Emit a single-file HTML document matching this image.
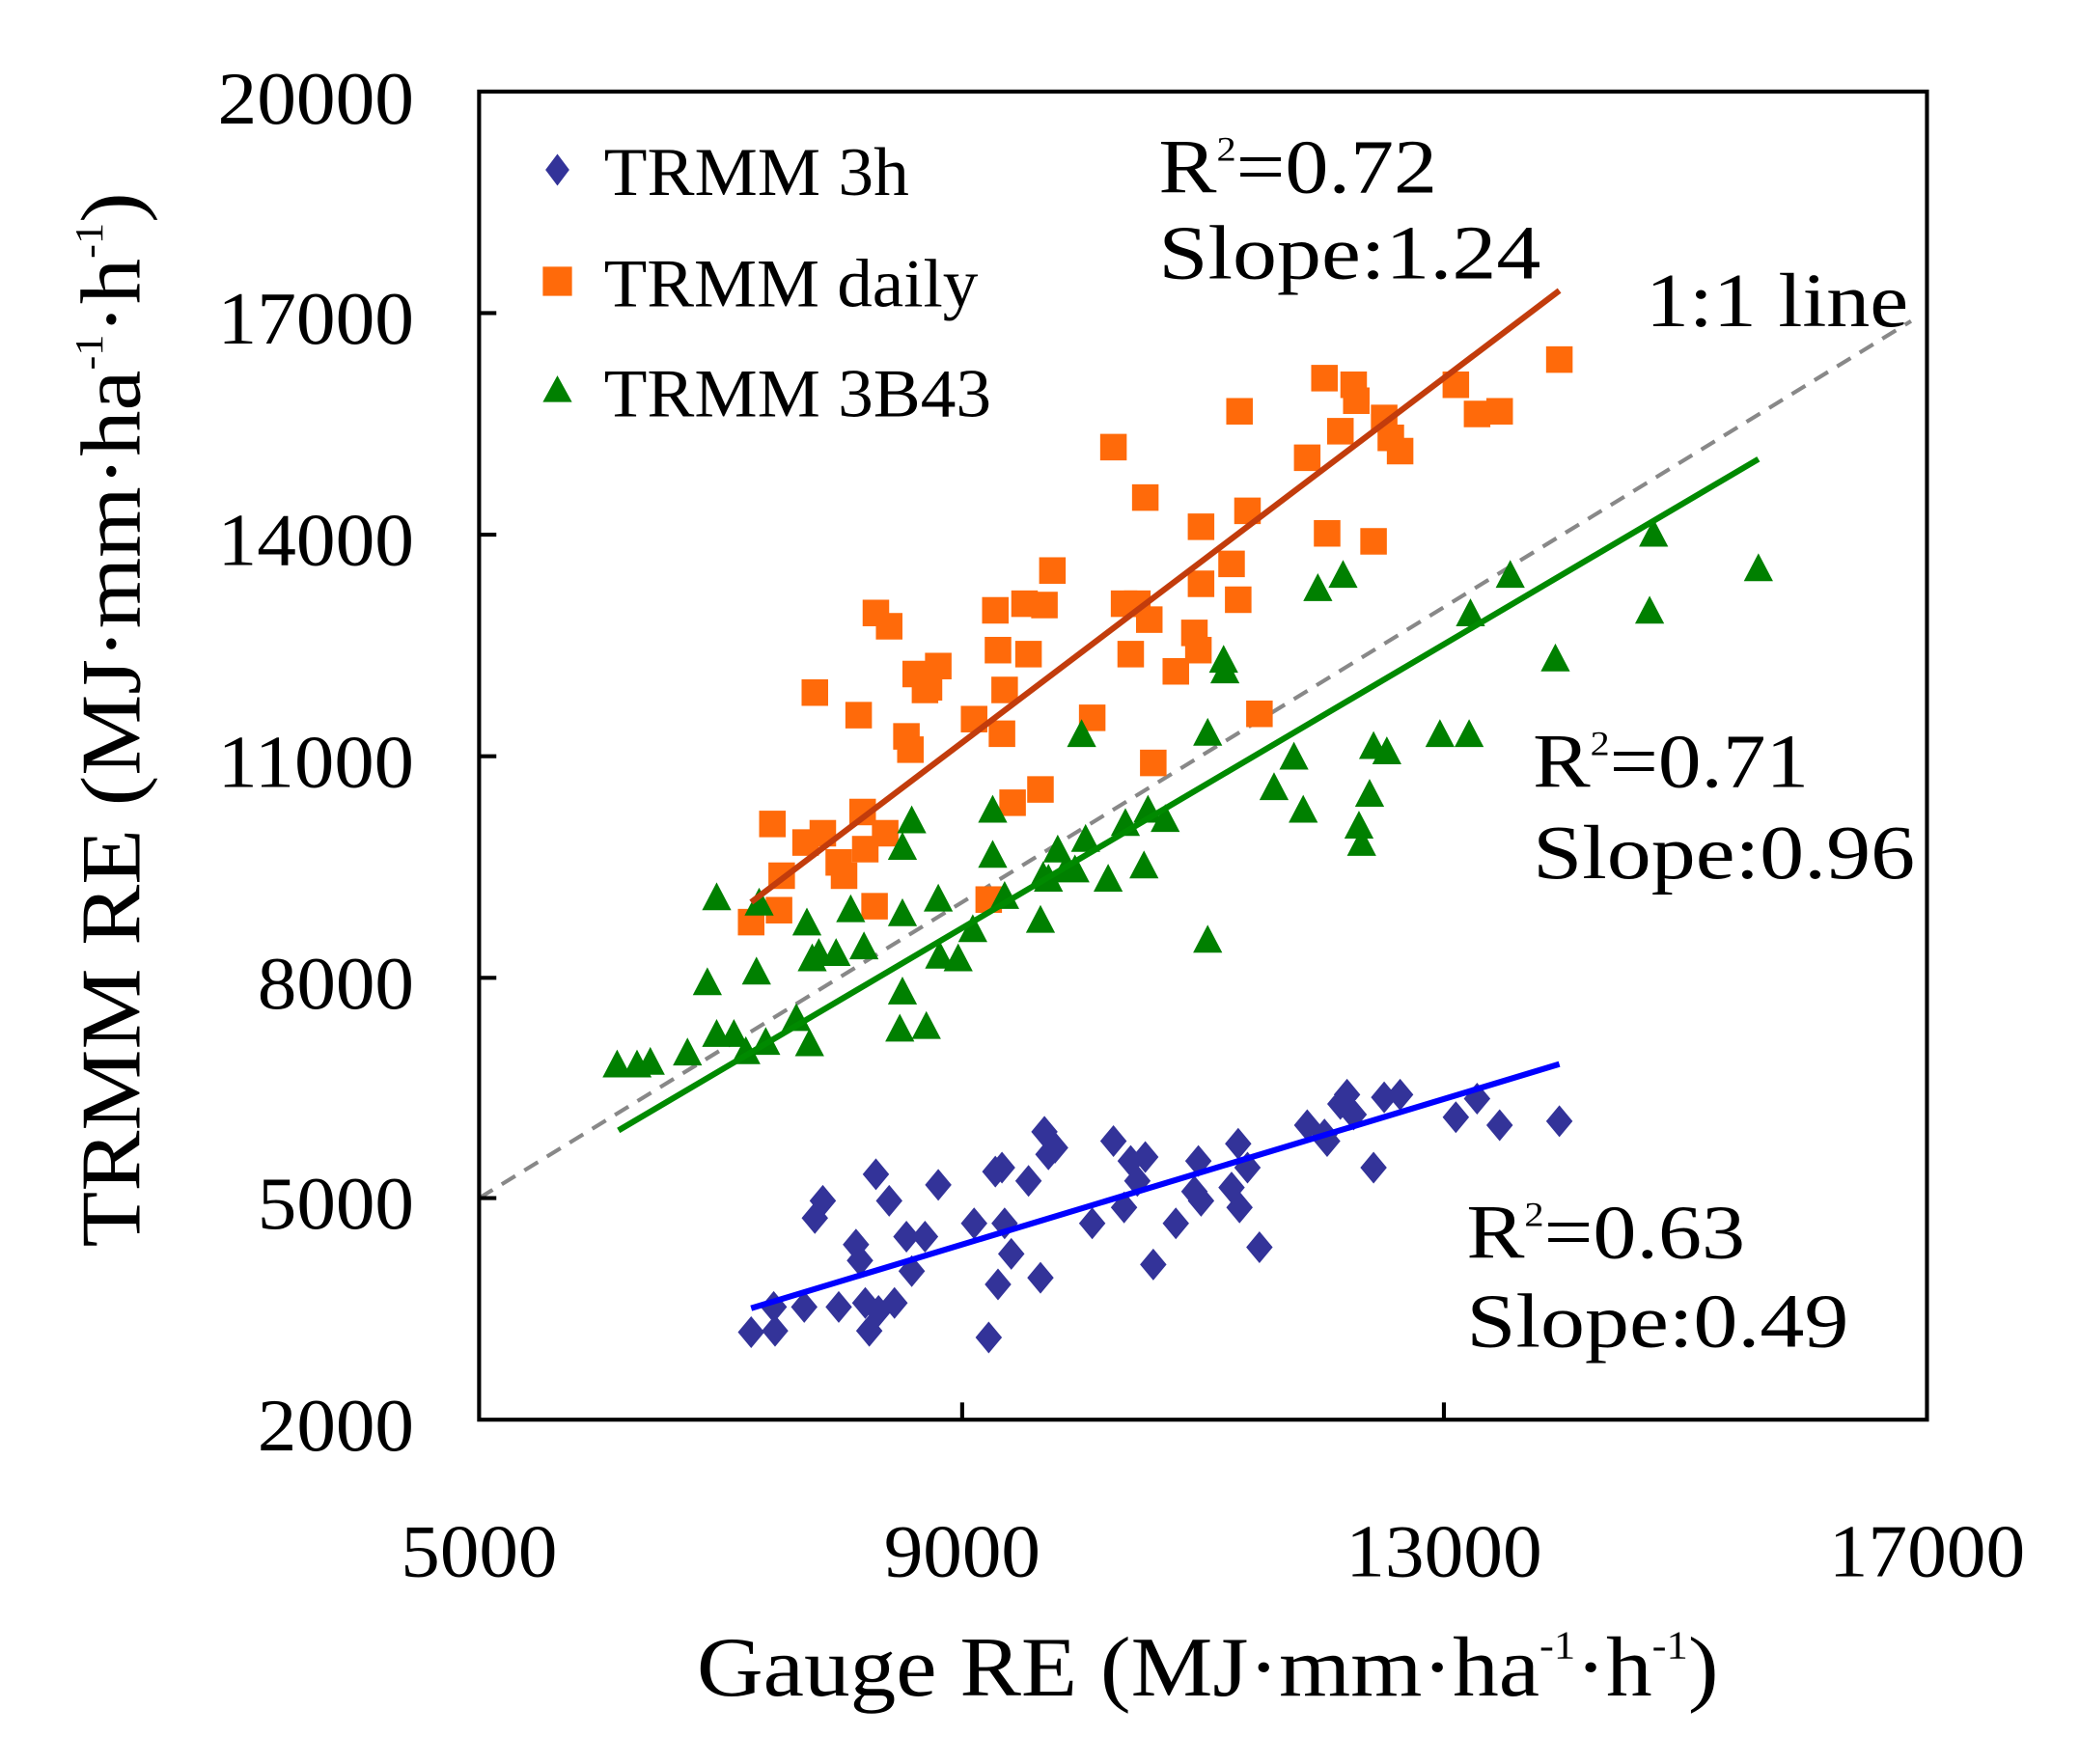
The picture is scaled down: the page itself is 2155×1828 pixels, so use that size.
<!DOCTYPE html>
<html><head><style>html,body{margin:0;padding:0;background:#fff}svg{display:block}svg text{font-family:"Liberation Serif","Times New Roman",serif}</style></head><body>
<svg width="2155" height="1828" viewBox="0 0 1567.3 1329.5" xmlns="http://www.w3.org/2000/svg" style="font-family:'Liberation Serif',serif">
<rect width="1567.3" height="1329.5" fill="#fff"/>
<line x1="361" y1="903" x2="1440" y2="242" stroke="#888" stroke-width="3" stroke-dasharray="12,8"/>
<g fill="#ff6a0a">
<rect x="556" y="685" width="20" height="20"/><rect x="577" y="676" width="20" height="20"/><rect x="572" y="611" width="20" height="20"/><rect x="579" y="650" width="20" height="20"/><rect x="597" y="625" width="20" height="20"/><rect x="610" y="618" width="20" height="20"/><rect x="604" y="512" width="20" height="20"/><rect x="622" y="640" width="20" height="20"/><rect x="626" y="650" width="20" height="20"/><rect x="637" y="529" width="20" height="20"/><rect x="640" y="602" width="20" height="20"/><rect x="642" y="630" width="20" height="20"/><rect x="649" y="673" width="20" height="20"/><rect x="650" y="452" width="20" height="20"/><rect x="660" y="462" width="20" height="20"/><rect x="657" y="618" width="20" height="20"/><rect x="673" y="545" width="20" height="20"/><rect x="676" y="555" width="20" height="20"/><rect x="680" y="498" width="20" height="20"/><rect x="687" y="510" width="20" height="20"/><rect x="697" y="492" width="20" height="20"/><rect x="690" y="508" width="20" height="20"/><rect x="724" y="532" width="20" height="20"/><rect x="735" y="668" width="20" height="20"/><rect x="740" y="450" width="20" height="20"/><rect x="742" y="480" width="20" height="20"/><rect x="745" y="543" width="20" height="20"/><rect x="747" y="510" width="20" height="20"/><rect x="753" y="595" width="20" height="20"/><rect x="762" y="445" width="20" height="20"/><rect x="765" y="483" width="20" height="20"/><rect x="774" y="585" width="20" height="20"/><rect x="777" y="446" width="20" height="20"/><rect x="783" y="420" width="20" height="20"/><rect x="813" y="531" width="20" height="20"/><rect x="829" y="327" width="20" height="20"/><rect x="837" y="445" width="20" height="20"/><rect x="842" y="483" width="20" height="20"/><rect x="847" y="445" width="20" height="20"/><rect x="853" y="365" width="20" height="20"/><rect x="856" y="457" width="20" height="20"/><rect x="859" y="565" width="20" height="20"/><rect x="876" y="496" width="20" height="20"/><rect x="890" y="467" width="20" height="20"/><rect x="893" y="480" width="20" height="20"/><rect x="895" y="387" width="20" height="20"/><rect x="895" y="430" width="20" height="20"/><rect x="918" y="415" width="20" height="20"/><rect x="923" y="442" width="20" height="20"/><rect x="924" y="300" width="20" height="20"/><rect x="930" y="375" width="20" height="20"/><rect x="939" y="528" width="20" height="20"/><rect x="975" y="335" width="20" height="20"/><rect x="988" y="275" width="20" height="20"/><rect x="990" y="392" width="20" height="20"/><rect x="1000" y="315" width="20" height="20"/><rect x="1010" y="280" width="20" height="20"/><rect x="1012" y="292" width="20" height="20"/><rect x="1025" y="398" width="20" height="20"/><rect x="1033" y="305" width="20" height="20"/><rect x="1038" y="320" width="20" height="20"/><rect x="1045" y="330" width="20" height="20"/><rect x="1087" y="280" width="20" height="20"/><rect x="1103" y="302" width="20" height="20"/><rect x="1120" y="300" width="20" height="20"/><rect x="1165" y="261" width="20" height="20"/>
</g>
<g fill="#008000">
<path d="M465,791l-11,21h22zM480,791l-11,21h22zM490,789l-11,21h22zM518,782l-11,21h22zM533,729l-11,21h22zM540,665l-11,21h22zM540,768l-11,21h22zM553,768l-11,21h22zM562,781l-11,21h22zM570,721l-11,21h22zM572,669l-11,21h22zM577,774l-11,21h22zM600,756l-11,21h22zM608,684l-11,21h22zM610,775l-11,21h22zM612,711l-11,21h22zM617,707l-11,21h22zM630,707l-11,21h22zM641,674l-11,21h22zM651,702l-11,21h22zM678,764l-11,21h22zM680,736l-11,21h22zM687,607l-11,21h22zM680,627l-11,21h22zM680,677l-11,21h22zM698,762l-11,21h22zM707,666l-11,21h22zM708,709l-11,21h22zM722,711l-11,21h22zM733,689l-11,21h22zM748,599l-11,21h22zM748,633l-11,21h22zM757,664l-11,21h22zM784,682l-11,21h22zM786,649l-11,21h22zM790,651l-11,21h22zM797,629l-11,21h22zM803,644l-11,21h22zM810,644l-11,21h22zM815,542l-11,21h22zM818,621l-11,21h22zM835,651l-11,21h22zM848,609l-11,21h22zM862,641l-11,21h22zM865,599l-11,21h22zM878,606l-11,21h22zM910,697l-11,21h22zM910,541l-11,21h22zM922,486l-11,21h22zM923,494l-11,21h22zM960,582l-11,21h22zM975,559l-11,21h22zM982,599l-11,21h22zM993,432l-11,21h22zM1012,422l-11,21h22zM1024,611l-11,21h22zM1026,624l-11,21h22zM1032,587l-11,21h22zM1035,551l-11,21h22zM1045,555l-11,21h22zM1085,542l-11,21h22zM1107,542l-11,21h22zM1108,451l-11,21h22zM1138,422l-11,21h22zM1172,485l-11,21h22zM1243,449l-11,21h22zM1246,391l-11,21h22zM1325,417l-11,21h22z"/>
</g>
<g fill="#333399">
<path d="M566,992l10,12-10,12-10-12zM584,991l10,12-10,12-10-12zM583,973l10,12-10,12-10-12zM606,973l10,12-10,12-10-12zM614,906l10,12-10,12-10-12zM620,893l10,12-10,12-10-12zM632,973l10,12-10,12-10-12zM645,926l10,12-10,12-10-12zM648,938l10,12-10,12-10-12zM652,970l10,12-10,12-10-12zM655,991l10,12-10,12-10-12zM660,873l10,12-10,12-10-12zM662,976l10,12-10,12-10-12zM670,893l10,12-10,12-10-12zM674,970l10,12-10,12-10-12zM683,920l10,12-10,12-10-12zM687,946l10,12-10,12-10-12zM697,920l10,12-10,12-10-12zM707,881l10,12-10,12-10-12zM734,910l10,12-10,12-10-12zM745,996l10,12-10,12-10-12zM750,871l10,12-10,12-10-12zM752,956l10,12-10,12-10-12zM755,868l10,12-10,12-10-12zM757,910l10,12-10,12-10-12zM762,933l10,12-10,12-10-12zM775,878l10,12-10,12-10-12zM784,951l10,12-10,12-10-12zM787,841l10,12-10,12-10-12zM790,858l10,12-10,12-10-12zM795,853l10,12-10,12-10-12zM823,910l10,12-10,12-10-12zM839,848l10,12-10,12-10-12zM847,898l10,12-10,12-10-12zM852,863l10,12-10,12-10-12zM857,878l10,12-10,12-10-12zM863,860l10,12-10,12-10-12zM869,941l10,12-10,12-10-12zM886,910l10,12-10,12-10-12zM900,886l10,12-10,12-10-12zM903,863l10,12-10,12-10-12zM905,893l10,12-10,12-10-12zM928,883l10,12-10,12-10-12zM933,850l10,12-10,12-10-12zM934,898l10,12-10,12-10-12zM940,868l10,12-10,12-10-12zM949,928l10,12-10,12-10-12zM985,836l10,12-10,12-10-12zM998,843l10,12-10,12-10-12zM1000,848l10,12-10,12-10-12zM1010,820l10,12-10,12-10-12zM1015,813l10,12-10,12-10-12zM1020,828l10,12-10,12-10-12zM1035,868l10,12-10,12-10-12zM1043,815l10,12-10,12-10-12zM1055,813l10,12-10,12-10-12zM1097,830l10,12-10,12-10-12zM1113,816l10,12-10,12-10-12zM1130,836l10,12-10,12-10-12zM1175,833l10,12-10,12-10-12z"/>
</g>
<line x1="566" y1="680" x2="1175" y2="219" stroke="#c23c0c" stroke-width="4.5"/>
<line x1="466" y1="852" x2="1325" y2="346" stroke="#008a00" stroke-width="4.5"/>
<line x1="566" y1="986" x2="1175" y2="802" stroke="#0000ff" stroke-width="4.5"/>
<rect x="361" y="69" width="1091" height="1001" fill="none" stroke="#000" stroke-width="3"/>
<g stroke="#000" stroke-width="3">
<line x1="361" y1="236" x2="374" y2="236"/><line x1="361" y1="403" x2="374" y2="403"/><line x1="361" y1="570" x2="374" y2="570"/><line x1="361" y1="737" x2="374" y2="737"/><line x1="361" y1="903" x2="374" y2="903"/>
<line x1="725" y1="1070" x2="725" y2="1057"/><line x1="1088" y1="1070" x2="1088" y2="1057"/>
</g>
<g font-size="56" text-anchor="end">
<text x="312" y="93" textLength="148" lengthAdjust="spacingAndGlyphs">20000</text>
<text x="312" y="259" textLength="148" lengthAdjust="spacingAndGlyphs">17000</text>
<text x="312" y="426" textLength="148" lengthAdjust="spacingAndGlyphs">14000</text>
<text x="312" y="593" textLength="148" lengthAdjust="spacingAndGlyphs">11000</text>
<text x="312" y="760" textLength="118" lengthAdjust="spacingAndGlyphs">8000</text>
<text x="312" y="926" textLength="118" lengthAdjust="spacingAndGlyphs">5000</text>
<text x="312" y="1093" textLength="118" lengthAdjust="spacingAndGlyphs">2000</text>
</g>
<g font-size="56" text-anchor="middle">
<text x="361" y="1188" textLength="118" lengthAdjust="spacingAndGlyphs">5000</text>
<text x="725" y="1188" textLength="118" lengthAdjust="spacingAndGlyphs">9000</text>
<text x="1088" y="1188" textLength="148" lengthAdjust="spacingAndGlyphs">13000</text>
<text x="1452" y="1188" textLength="148" lengthAdjust="spacingAndGlyphs">17000</text>
</g>
<text x="525" y="1278" font-size="64" textLength="770" lengthAdjust="spacingAndGlyphs">Gauge RE (MJ·mm·ha<tspan font-size="30" dy="-28">-1</tspan><tspan dy="28">·h</tspan><tspan font-size="30" dy="-28">-1</tspan><tspan dy="28">)</tspan></text>
<text transform="translate(105,940) rotate(-90)" font-size="64" textLength="795" lengthAdjust="spacingAndGlyphs">TRMM RE (MJ·mm·ha<tspan font-size="30" dy="-28">-1</tspan><tspan dy="28">·h</tspan><tspan font-size="30" dy="-28">-1</tspan><tspan dy="28">)</tspan></text>
<path d="M420,116l9,12-9,12-9-12z" fill="#333399"/>
<rect x="409" y="201" width="22" height="22" fill="#ff6a0a"/>
<path d="M420,283l-11,20h22z" fill="#008000"/>
<g font-size="52">
<text x="455" y="147" textLength="230" lengthAdjust="spacingAndGlyphs">TRMM 3h</text>
<text x="455" y="231" textLength="282" lengthAdjust="spacingAndGlyphs">TRMM daily</text>
<text x="455" y="314" textLength="292" lengthAdjust="spacingAndGlyphs">TRMM 3B43</text>
</g>
<g font-size="58">
<text x="873" y="145" textLength="210" lengthAdjust="spacingAndGlyphs">R<tspan font-size="26" dy="-24">2</tspan><tspan dy="24">=0.72</tspan></text>
<text x="873" y="210" textLength="288" lengthAdjust="spacingAndGlyphs">Slope:1.24</text>
<text x="1240" y="246" textLength="198" lengthAdjust="spacingAndGlyphs">1:1 line</text>
<text x="1155" y="593" textLength="208" lengthAdjust="spacingAndGlyphs">R<tspan font-size="26" dy="-24">2</tspan><tspan dy="24">=0.71</tspan></text>
<text x="1155" y="662" textLength="288" lengthAdjust="spacingAndGlyphs">Slope:0.96</text>
<text x="1105" y="948" textLength="210" lengthAdjust="spacingAndGlyphs">R<tspan font-size="26" dy="-24">2</tspan><tspan dy="24">=0.63</tspan></text>
<text x="1105" y="1015" textLength="288" lengthAdjust="spacingAndGlyphs">Slope:0.49</text>
</g>
</svg>
</body></html>
